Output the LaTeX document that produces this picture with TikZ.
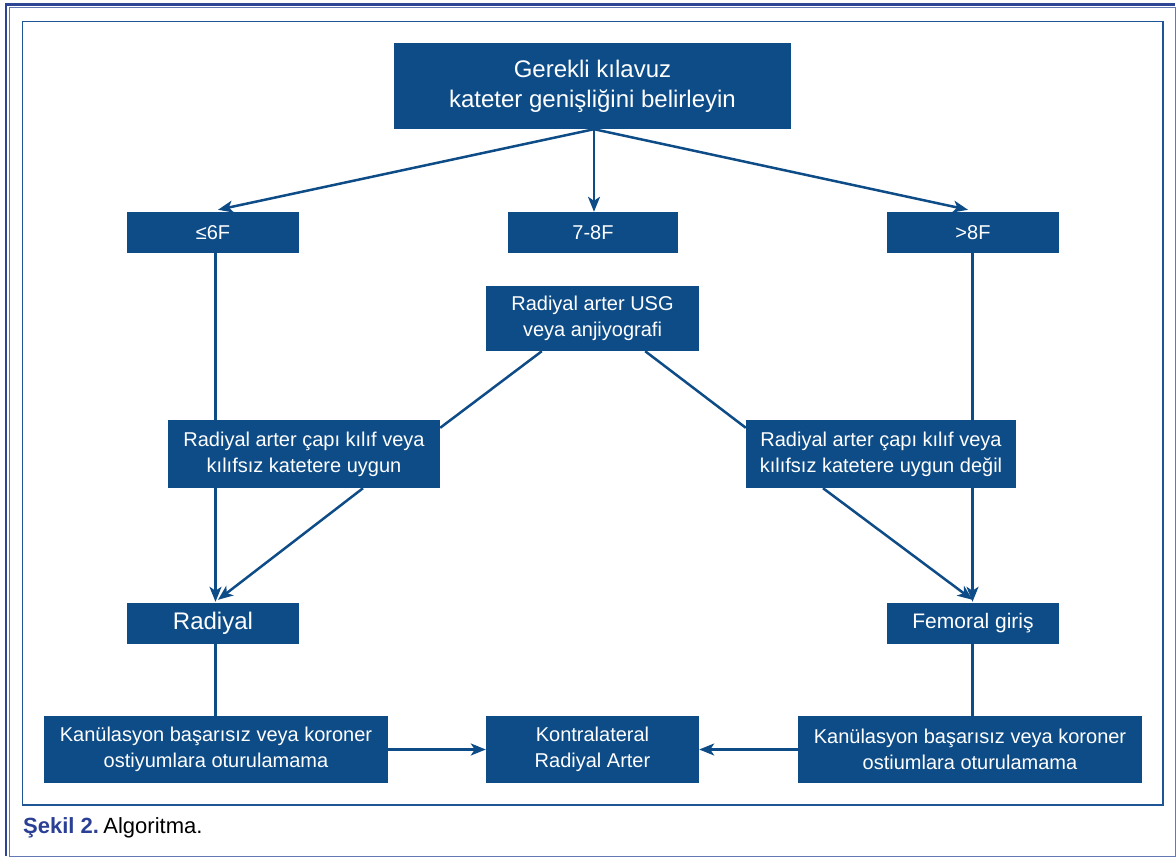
\documentclass[tikz,border=0pt]{standalone}
\usepackage{fontspec}
\setmainfont{Liberation Sans}
\usetikzlibrary{arrows.meta}
\definecolor{boxblue}{RGB}{14,76,135}
\definecolor{capblue}{RGB}{43,63,148}
\definecolor{framedark}{RGB}{45,69,149}
\definecolor{framelight}{RGB}{100,120,180}
\definecolor{innerframe}{RGB}{30,85,150}
\begin{document}
\begin{tikzpicture}[x=1pt,y=-1pt,
  box/.style={fill=boxblue, text=white, inner sep=0pt, align=center, font=\fontsize{20}{26}\selectfont},
  conn/.style={draw=boxblue, line width=2.5pt},
  arr/.style={conn, -{Stealth[length=15pt,width=12pt,inset=4pt]}}]
\useasboundingbox (0,0) rectangle (1176,858);
% frames
\draw[framelight, line width=1pt] (9.7,7.8) rectangle (1175.2,856.3);
\draw[framedark, line width=2.5pt] (6,856.3) -- (6,4.7) -- (1175.2,4.7);
\draw[innerframe, line width=1.2pt] (22.5,21.5) rectangle (1163,805);
% nodes
\node[box, minimum width=397pt, minimum height=86pt, font=\fontsize{24}{30}\selectfont] (top) at (592.5,86) {Gerekli kılavuz\\kateter genişliğini belirleyin};
\node[box, minimum width=172pt, minimum height=41pt] (le) at (213,232.5) {≤6F};
\node[box, minimum width=170pt, minimum height=41pt] (mid) at (593,232.5) {7-8F};
\node[box, minimum width=172pt, minimum height=41pt] (gt) at (973,232.5) {>8F};
\node[box, minimum width=213pt, minimum height=65pt] (usg) at (592.5,318.5) {Radiyal arter USG\\veya anjiyografi};
\node[box, minimum width=272pt, minimum height=68pt] (lbox) at (304,454) {Radiyal arter çapı kılıf veya\\kılıfsız katetere uygun};
\node[box, minimum width=270pt, minimum height=68pt] (rbox) at (881,454) {Radiyal arter çapı kılıf veya\\kılıfsız katetere uygun değil};
\node[box, minimum width=172pt, minimum height=41pt, font=\fontsize{24}{28}\selectfont] (rad) at (213,623.5) {Radiyal};
\node[box, minimum width=172pt, minimum height=41pt, font=\fontsize{21}{26}\selectfont] (fem) at (973,623.5) {Femoral giriş};
\node[box, minimum width=344pt, minimum height=67pt] (bl) at (216,749.5) {Kanülasyon başarısız veya koroner\\ostiyumlara oturulamama};
\node[box, minimum width=213pt, minimum height=67pt] (kon) at (592.5,749.5) {Kontralateral\\Radiyal Arter};
\node[box, minimum width=344pt, minimum height=67pt] (br) at (970,749.5) {Kanülasyon başarısız veya koroner\\ostiumlara oturulamama};
% caption
\node[anchor=base west, inner sep=0pt, font=\fontsize{22}{26}\selectfont] (cap) at (23,833) {\textcolor{capblue}{\textbf{Şekil 2.}}\hspace{0.2em}Algoritma.};
% column coordinates
\coordinate (cl) at (215.5,0);
\coordinate (cr) at (972.5,0);
% connectors
\draw[arr] ([xshift=1.5pt]top.south) -- ([xshift=5pt,yshift=2pt]le.north);
\draw[arr] ([xshift=1.5pt]top.south) -- ([xshift=1pt]mid.north);
\draw[arr] ([xshift=1.5pt]top.south) -- ([xshift=-5pt,yshift=2pt]gt.north);
\draw[conn] (le.south -| cl) -- (lbox.north -| cl);
\draw[arr] (lbox.south -| cl) -- ([yshift=1pt]rad.north -| cl);
\draw[conn] (gt.south -| cr) -- (rbox.north -| cr);
\draw[arr] (rbox.south -| cr) -- ([yshift=1pt]fem.north -| cr);
\draw[conn] ([xshift=56pt]usg.south west) -- ([yshift=-8pt]lbox.north east);
\draw[conn] ([xshift=-54pt]usg.south east) -- ([yshift=-8pt]rbox.north west);
\draw[arr] ([xshift=59pt]lbox.south) -- ([xshift=5pt,yshift=3pt]rad.north);
\draw[arr] ([xshift=-58pt]rbox.south) -- ([yshift=3pt]fem.north -| cr);
\draw[conn] (rad.south -| cl) -- (bl.north -| cl);
\draw[conn] (fem.south -| cr) -- (br.north -| cr);
\draw[arr] (bl.east) -- (kon.west);
\draw[arr] (br.west) -- (kon.east);
\end{tikzpicture}
\end{document}
